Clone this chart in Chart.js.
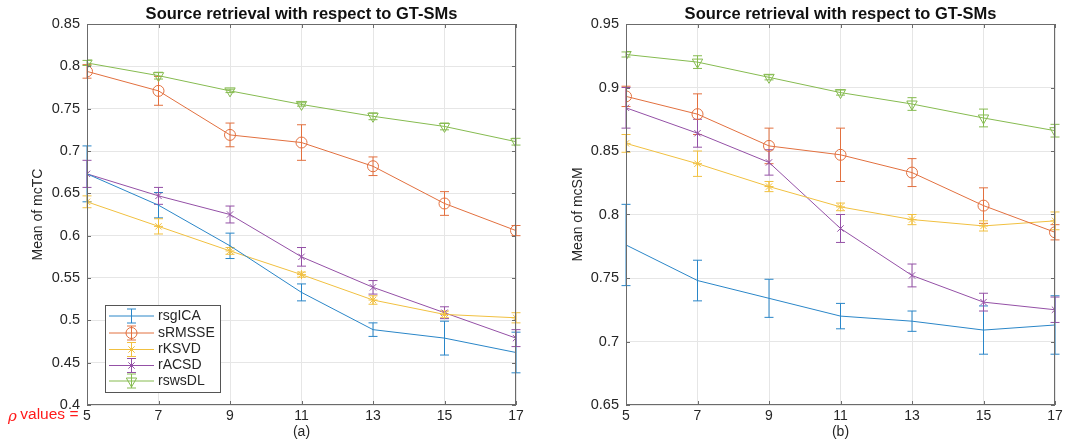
<!DOCTYPE html>
<html>
<head>
<meta charset="utf-8">
<script src="https://cdn.jsdelivr.net/npm/chart.js@4/dist/chart.umd.min.js"></script>
<style>
  html, body { margin: 0; padding: 0; background: #fff; }
  #wrap { position: relative; width: 1082px; height: 441px; overflow: hidden; }
  .pane { position: absolute; top: 0; width: 541px; height: 441px; }
</style>
</head>
<body>
<div id="wrap">
  <div class="pane" style="left:0"><canvas id="chartTC" width="541" height="441"></canvas></div>
  <div class="pane" style="left:541px"><canvas id="chartSM" width="541" height="441"></canvas></div>
</div>
<script>
// ========= Data =========
const rhoValues = [5, 7, 9, 11, 13, 15, 17];
const seriesNames = ["rsgICA", "sRMSSE", "rKSVD", "rACSD", "rswsDL"];

// (a) mean of mcTC
const tcRsgICA    = [0.673, 0.636, 0.588, 0.533, 0.489, 0.479, 0.462];
const tcRsgICAErr = [0.033, 0.015, 0.015, 0.010, 0.008, 0.020, 0.024];
const tcSRMSSE    = [0.794, 0.771, 0.719, 0.710, 0.682, 0.638, 0.606];
const tcSRMSSEErr = [0.008, 0.017, 0.014, 0.021, 0.011, 0.014, 0.006];
const tcRKSVD     = [0.640, 0.611, 0.582, 0.554, 0.524, 0.507, 0.503];
const tcRKSVDErr  = [0.007, 0.009, 0.004, 0.003, 0.005, 0.004, 0.006];
const tcRACSD     = [0.673, 0.647, 0.625, 0.575, 0.539, 0.509, 0.479];
const tcRACSDErr  = [0.016, 0.010, 0.010, 0.011, 0.008, 0.007, 0.010];
const tcRswsDL    = [0.804, 0.789, 0.771, 0.755, 0.741, 0.729, 0.711];
const tcRswsDLErr = [0.003, 0.004, 0.002, 0.002, 0.004, 0.004, 0.004];

// (b) mean of mcSM
const smRsgICA    = [0.776, 0.748, 0.734, 0.720, 0.716, 0.709, 0.713];
const smRsgICAErr = [0.032, 0.016, 0.015, 0.010, 0.008, 0.019, 0.023];
const smSRMSSE    = [0.893, 0.879, 0.854, 0.847, 0.833, 0.807, 0.786];
const smSRMSSEErr = [0.008, 0.016, 0.014, 0.021, 0.011, 0.014, 0.006];
const smRKSVD     = [0.856, 0.840, 0.822, 0.806, 0.796, 0.791, 0.795];
const smRKSVDErr  = [0.007, 0.010, 0.004, 0.003, 0.004, 0.004, 0.007];
const smRACSD     = [0.884, 0.864, 0.841, 0.789, 0.752, 0.731, 0.725];
const smRACSDErr  = [0.016, 0.011, 0.010, 0.011, 0.009, 0.007, 0.010];
const smRswsDL    = [0.926, 0.920, 0.908, 0.896, 0.887, 0.876, 0.866];
const smRswsDLErr = [0.002, 0.005, 0.002, 0.002, 0.005, 0.007, 0.005];

// ========= Styling =========
const FONT = "'Liberation Sans', Arial, Helvetica, sans-serif";
const colors = ["#2a86c8", "#e2703f", "#f1c040", "#9450a6", "#86bb50"];
const markers = [
  { style: false, radius: 0, rotation: 0 },
  { style: "circle", radius: 5.5, rotation: 0 },
  { style: "star", radius: 4.5, rotation: 0 },
  { style: "crossRot", radius: 4.5, rotation: 0 },
  { style: "triangle", radius: 6, rotation: 180 }
];

function buildDatasets(values, errors) {
  return values.map((vals, i) => ({
    label: seriesNames[i],
    data: rhoValues.map((x, j) => ({ x, y: vals[j] })),
    errors: errors[i],
    borderColor: colors[i],
    backgroundColor: "rgba(0,0,0,0)",
    borderWidth: 1,
    pointStyle: markers[i].style,
    pointRadius: markers[i].radius,
    pointRotation: markers[i].rotation,
    pointBorderColor: colors[i],
    pointBackgroundColor: "rgba(0,0,0,0)",
    pointBorderWidth: 1,
    tension: 0
  }));
}

// error bars (drawn through the chart's scales)
const errorBarPlugin = {
  id: "errorBars",
  beforeDatasetsDraw(chart) {
    const { ctx, scales: { x, y } } = chart;
    ctx.save();
    ctx.lineWidth = 1;
    chart.data.datasets.forEach((ds) => {
      ctx.strokeStyle = ds.borderColor;
      ds.data.forEach((p, j) => {
        const e = ds.errors[j];
        const px = x.getPixelForValue(p.x);
        const top = y.getPixelForValue(p.y + e);
        const bot = y.getPixelForValue(p.y - e);
        ctx.beginPath();
        ctx.moveTo(px, top); ctx.lineTo(px, bot);
        ctx.moveTo(px - 4.5, top); ctx.lineTo(px + 4.5, top);
        ctx.moveTo(px - 4.5, bot); ctx.lineTo(px + 4.5, bot);
        ctx.stroke();
      });
    });
    ctx.restore();
  }
};

// axes box, inward ticks, title, labels
const framePlugin = {
  id: "frame",
  afterDraw(chart, args, opts) {
    const { ctx, chartArea: a, scales: { x, y } } = chart;
    ctx.save();
    ctx.strokeStyle = "#6b6b6b";
    ctx.lineWidth = 1;
    ctx.strokeRect(a.left + 0.5, a.top + 0.5, a.right - a.left - 1, a.bottom - a.top - 1);
    ctx.beginPath();
    x.ticks.forEach(t => {
      const px = Math.round(x.getPixelForValue(t.value)) + 0.5;
      ctx.moveTo(px, a.bottom); ctx.lineTo(px, a.bottom - 4);
      ctx.moveTo(px, a.top); ctx.lineTo(px, a.top + 4);
    });
    y.ticks.forEach(t => {
      const py = Math.round(y.getPixelForValue(t.value)) + 0.5;
      ctx.moveTo(a.left, py); ctx.lineTo(a.left + 4, py);
      ctx.moveTo(a.right, py); ctx.lineTo(a.right - 4, py);
    });
    ctx.stroke();

    // title
    ctx.fillStyle = "#111";
    ctx.font = "bold 16.5px " + FONT;
    ctx.textAlign = "center";
    ctx.textBaseline = "middle";
    ctx.fillText("Source retrieval with respect to GT-SMs", (a.left + a.right) / 2, 14);

    // y label
    ctx.fillStyle = "#262626";
    ctx.font = "14px " + FONT;
    ctx.save();
    ctx.translate(opts.yLabelX, (a.top + a.bottom) / 2);
    ctx.rotate(-Math.PI / 2);
    ctx.fillText(opts.yLabel, 0, 0);
    ctx.restore();

    // panel letter
    ctx.fillText(opts.panel, (a.left + a.right) / 2, 432);

    if (opts.rhoLabel) {
      ctx.fillStyle = "#ff1a1a";
      ctx.textAlign = "left";
      ctx.font = "italic 15px 'DejaVu Serif', serif";
      ctx.fillText("\u03c1", 8, 417);
      ctx.font = "15.5px " + FONT;
      ctx.fillText(" values =", 16, 415);
    }
    ctx.restore();
  }
};

// legend inside panel (a)
const legendPlugin = {
  id: "boxLegend",
  afterDraw(chart, args, opts) {
    if (!opts.show) return;
    const { ctx } = chart;
    const bx = 105, by = 305, bw = 115, bh = 87;
    ctx.save();
    ctx.fillStyle = "#fff";
    ctx.fillRect(bx, by, bw, bh);
    ctx.strokeStyle = "#555";
    ctx.lineWidth = 1;
    ctx.strokeRect(bx + 0.5, by + 0.5, bw, bh);
    const rows = [316, 333, 349.5, 365.5, 381];
    chart.data.datasets.forEach((ds, i) => {
      const ry = rows[i];
      ctx.strokeStyle = ds.borderColor;
      ctx.beginPath();
      ctx.moveTo(109, ry); ctx.lineTo(154, ry);
      ctx.moveTo(131.5, ry - 7); ctx.lineTo(131.5, ry + 7);
      ctx.moveTo(127, ry - 7); ctx.lineTo(136, ry - 7);
      ctx.moveTo(127, ry + 7); ctx.lineTo(136, ry + 7);
      ctx.stroke();
      const m = markers[i];
      if (m.style) {
        ctx.fillStyle = "rgba(0,0,0,0)";
        Chart.helpers.drawPoint(ctx, {
          pointStyle: m.style, radius: m.radius, rotation: m.rotation, borderWidth: 1
        }, 131.5, ry);
      }
      ctx.fillStyle = "#262626";
      ctx.font = "14px " + FONT;
      ctx.textAlign = "left";
      ctx.textBaseline = "middle";
      ctx.fillText(ds.label, 158, ry);
    });
    ctx.restore();
  }
};

function makeChart(id, values, errors, yMin, yMax, yAxisWidth, padRight, frameOpts, showLegend) {
  const ctx = document.getElementById(id).getContext("2d");
  return new Chart(ctx, {
    type: "line",
    data: { datasets: buildDatasets(values, errors) },
    plugins: [errorBarPlugin, framePlugin, legendPlugin],
    options: {
      responsive: false,
      animation: false,
      layout: { padding: { top: 24, right: padRight, left: 0, bottom: 0 } },
      plugins: {
        legend: { display: false },
        tooltip: { enabled: false },
        frame: frameOpts,
        boxLegend: { show: showLegend }
      },
      scales: {
        x: {
          type: "linear",
          min: 5, max: 17,
          afterFit: (s) => { s.height = 36; },
          ticks: { stepSize: 2, padding: 3, color: "#262626", font: { family: FONT, size: 14 } },
          grid: { color: "#e6e6e6", drawTicks: false },
          border: { display: false }
        },
        y: {
          min: yMin, max: yMax,
          afterFit: (s) => { s.width = yAxisWidth; },
          ticks: {
            stepSize: 0.05, padding: 7, color: "#262626", font: { family: FONT, size: 14.5 },
            callback: (v) => String(Number(v.toFixed(2)))
          },
          grid: { color: "#e6e6e6", drawTicks: false },
          border: { display: false }
        }
      }
    }
  });
}

makeChart("chartTC",
  [tcRsgICA, tcSRMSSE, tcRKSVD, tcRACSD, tcRswsDL],
  [tcRsgICAErr, tcSRMSSEErr, tcRKSVDErr, tcRACSDErr, tcRswsDLErr],
  0.4, 0.85, 87, 25,
  { yLabel: "Mean of mcTC", yLabelX: 38, panel: "(a)", rhoLabel: true }, true);

makeChart("chartSM",
  [smRsgICA, smSRMSSE, smRKSVD, smRACSD, smRswsDL],
  [smRsgICAErr, smSRMSSEErr, smRKSVDErr, smRACSDErr, smRswsDLErr],
  0.65, 0.95, 85, 27,
  { yLabel: "Mean of mcSM", yLabelX: 37, panel: "(b)", rhoLabel: false }, false);
</script>
</body>
</html>
